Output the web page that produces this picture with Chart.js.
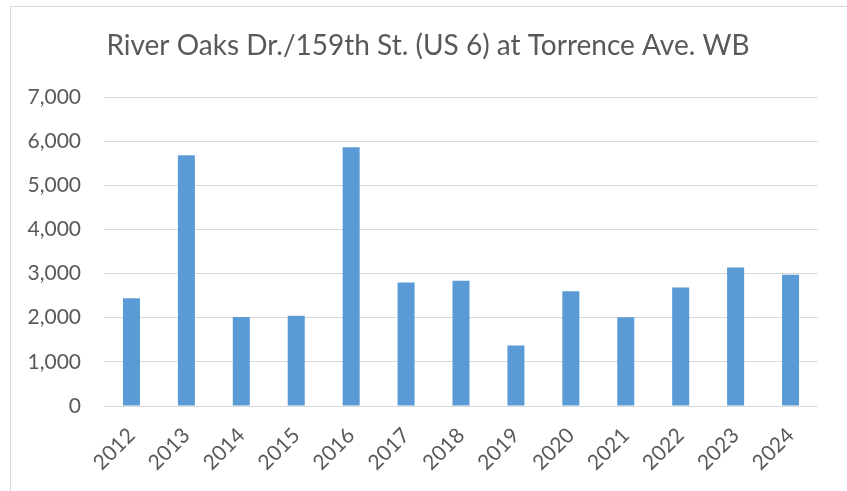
<!DOCTYPE html>
<html>
<head>
<meta charset="utf-8">
<script src="https://cdn.jsdelivr.net/npm/chart.js@4"></script>
<style>
    body { margin: 0; background: #ffffff; overflow: hidden; }
    #frame {
        position: absolute; left: 10px; top: 6px;
        width: 900px; height: 600px;
        border: 1px solid #d9d9d9;
    }
    #trafficChart { position: absolute; left: 0; top: 0; }
</style>
</head>
<body>
<div id="frame"></div>
<canvas id="trafficChart" width="847" height="491"></canvas>
<script>
// Chart data
const chartTitle = "River Oaks Dr./159th St. (US 6) at Torrence Ave. WB";
const years = ["2012", "2013", "2014", "2015", "2016", "2017", "2018",
               "2019", "2020", "2021", "2022", "2023", "2024"];
const volumes = [2440, 5680, 2015, 2045, 5860, 2800, 2840,
                 1370, 2600, 2010, 2685, 3135, 2975];
const yTicks = [0, 1000, 2000, 3000, 4000, 5000, 6000, 7000];

const textColor = "#595959";
const gridColor = "#d9d9d9";

// Draws the title where Excel puts it (centered over the whole chart box)
const titlePlugin = {
    id: "excelTitle",
    afterDraw(chart) {
        const ctx = chart.ctx;
        ctx.save();
        ctx.fillStyle = textColor;
        ctx.font = "28px Lato";
        ctx.textAlign = "center";
        ctx.textBaseline = "alphabetic";
        ctx.fillText(chartTitle, 428, 55);
        ctx.restore();
    },
};

const ctx = document.getElementById("trafficChart").getContext("2d");
new Chart(ctx, {
    type: "bar",
    data: {
        labels: years,
        datasets: [
            {
                label: "Volume",
                data: volumes,
                backgroundColor: "#5b9bd5",
                barPercentage: 0.62,
                categoryPercentage: 0.5,
            },
        ],
    },
    options: {
        responsive: false,
        animation: false,
        layout: { padding: { top: 97, right: 29, left: 0, bottom: 0 } },
        plugins: {
            legend: { display: false },
            tooltip: { enabled: false },
        },
        scales: {
            x: {
                grid: { display: false },
                border: { display: false },
                ticks: {
                    color: textColor,
                    font: { family: "Lato", size: 21 },
                    autoSkip: false,
                    minRotation: 45,
                    maxRotation: 45,
                    padding: 9,
                },
                afterFit: (scale) => { scale.height = 85; },
            },
            y: {
                min: 0,
                max: 7000,
                afterBuildTicks: (scale) => {
                    scale.ticks = yTicks.map((v) => ({ value: v }));
                },
                grid: { color: gridColor, lineWidth: 1, drawTicks: false },
                border: { display: false },
                ticks: {
                    color: textColor,
                    font: { family: "Lato", size: 21 },
                    padding: 23,
                    callback: (v) => v.toLocaleString("en-US"),
                },
                afterFit: (scale) => { scale.width = 104; },
            },
        },
    },
    plugins: [titlePlugin],
});
</script>
</body>
</html>
